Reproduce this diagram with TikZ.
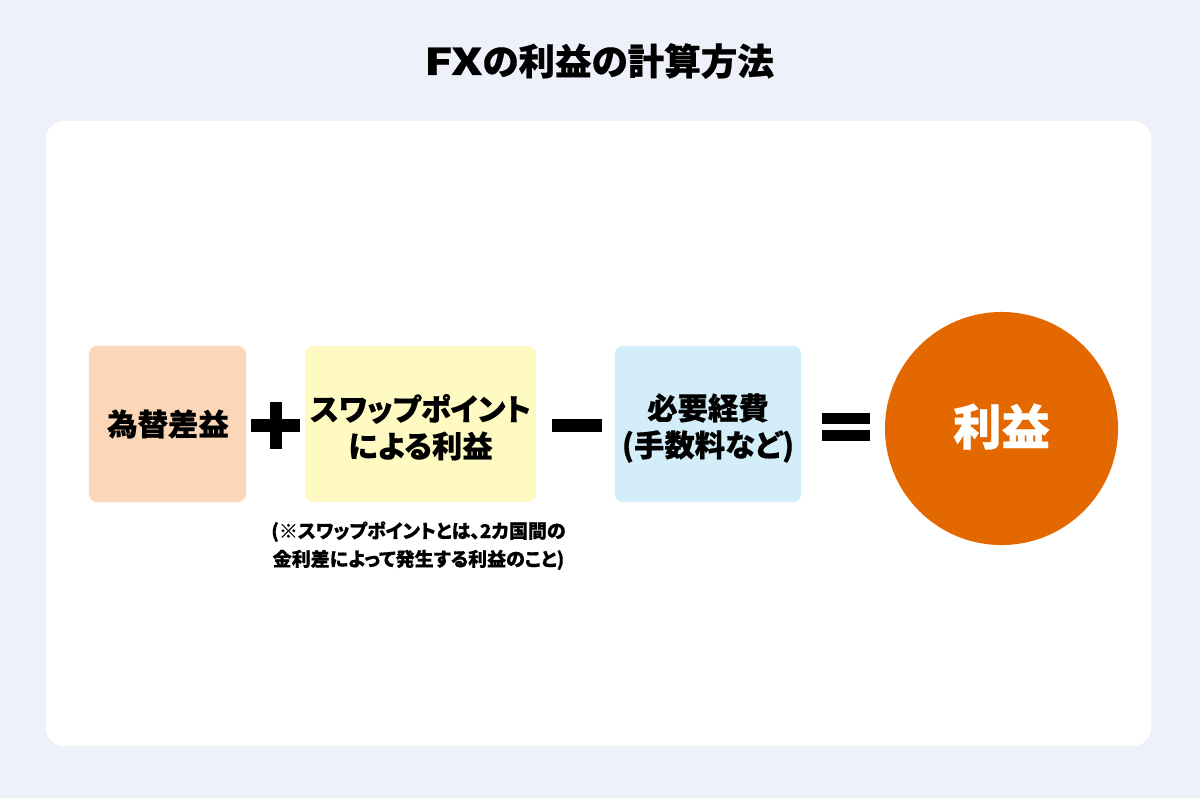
\documentclass[tikz,border=0pt]{standalone}
\usepackage{fontspec}
\newfontfamily\jpblack[RawFeature=+palt,FakeBold=0.5]{Noto Sans CJK JP Black}
\newfontfamily\jpwide[FakeBold=0.5,FakeStretch=1.3]{Noto Sans CJK JP Black}
\usetikzlibrary{positioning}
\definecolor{pagebg}{HTML}{EEF1F9}
\definecolor{boxorange}{HTML}{FBD6B7}
\definecolor{boxyellow}{HTML}{FFFAC2}
\definecolor{boxblue}{HTML}{D3EDF9}
\definecolor{resultorange}{HTML}{E46800}
\tikzset{
  termbox/.style={rounded corners=0.2cm,minimum height=3.9cm,inner sep=0pt},
  termtext/.style={inner sep=0pt,align=center,font=\jpblack\fontsize{21.6}{26.3}\selectfont},
  opbar/.style={fill=black,inner sep=0pt}
}
\begin{document}
\begin{tikzpicture}[x=0.025cm,y=-0.025cm]
\fill[pagebg] (0,0) rectangle (1200,798);
\fill[white,rounded corners=0.45cm] (46,121) rectangle (1151,746);

\node [font=\jpblack\fontsize{26}{30}\selectfont] (title) at (599,61) {{\jpwide FX}の利益の計算方法};

\node [termbox,fill=boxorange,minimum width=3.925cm] (rate) at (167.5,424) {};
\node [termbox,fill=boxyellow,minimum width=5.775cm] (swap) at (420.5,424) {};
\node [termbox,fill=boxblue,minimum width=4.65cm] (cost) at (708,424) {};
\node [circle,fill=resultorange,minimum size=5.825cm,inner sep=0pt] (profit) at (1001.5,428.5) {};

\node [termtext] (ratetext) at (168,424) {為替差益};
\node [termtext] (swaptext) at ([yshift=-0.08cm]swap) {スワップポイント\\による利益};
\node [termtext] (costtext) at ([yshift=-0.1cm]cost) {必要経費\\(手数料など)};
\node [termtext,text=white,font=\jpblack\fontsize{34.5}{40}\selectfont] (profittext) at ([yshift=0.05cm]profit) {利益};

\node [below=0.47cm of swap,xshift=-0.05cm,align=center,inner sep=0pt,
  font=\jpblack\fontsize{13.5}{20}\selectfont] (note)
  {(※スワップポイントとは、2カ国間の\\金利差によって発生する利益のこと)};

% plus
\node [opbar,minimum width=1.225cm,minimum height=0.325cm] (plush) at (275.5,425.5) {};
\node [opbar,minimum width=0.3cm,minimum height=1.175cm] (plusv) at (276,425.5) {};
% minus
\node [opbar,minimum width=1.25cm,minimum height=0.325cm] (minus) at (577,425.5) {};
% equals
\node [opbar,minimum width=1.2cm,minimum height=0.275cm] (eqa) at (846,418.5) {};
\node [opbar,minimum width=1.2cm,minimum height=0.275cm] (eqb) at (846,435.5) {};
\end{tikzpicture}
\end{document}
